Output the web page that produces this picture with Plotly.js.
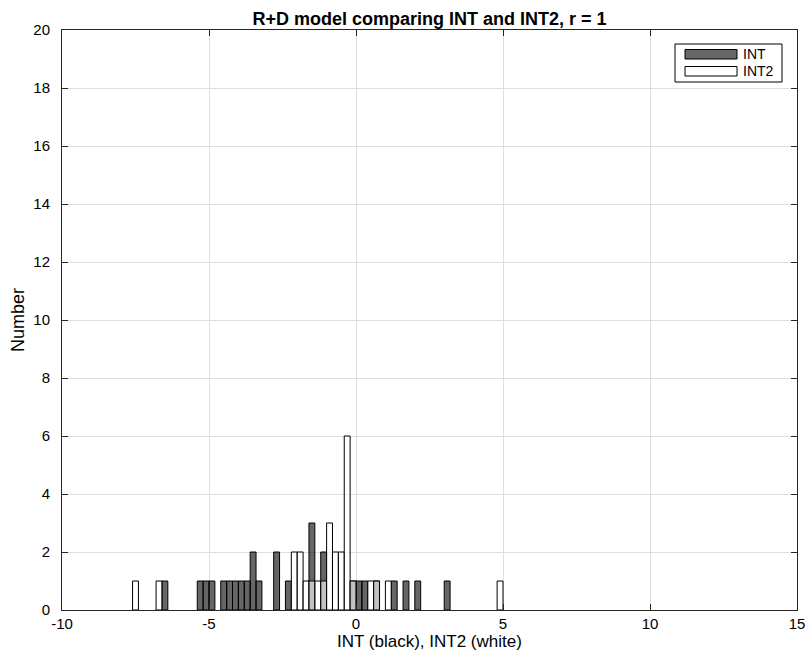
<!DOCTYPE html>
<html>
<head>
<meta charset="utf-8">
<script src="https://cdn.plot.ly/plotly-3.0.1.min.js"></script>
<style>html,body{margin:0;padding:0;background:#fff;}#chart{width:809px;height:653px;}</style>
</head>
<body>
<div id="chart"></div>
<script>
// Bin centres (bin width 0.2) and counts
var intCenters  = [-6.5, -5.3, -5.1, -4.9, -4.5, -4.3, -4.1, -3.9, -3.7, -3.5, -3.3, -2.7, -2.3, -1.5, -1.1, -0.1, 0.1, 0.3, 0.7, 1.3, 1.7, 2.1, 3.1];
var intCounts   = [1, 1, 1, 1, 1, 1, 1, 1, 1, 2, 1, 2, 1, 3, 2, 1, 1, 1, 1, 1, 1, 1, 1];
var int2Centers = [-7.5, -6.7, -2.1, -1.9, -1.7, -1.5, -1.3, -1.1, -0.9, -0.7, -0.5, -0.3, -0.1, 0.5, 0.7, 1.1, 4.9];
var int2Counts  = [1, 1, 2, 2, 1, 1, 1, 1, 3, 2, 2, 6, 1, 1, 1, 1, 1];
var binWidth = 0.2;
var xTicks = [-10, -5, 0, 5, 10, 15];
var yTicks = [0, 2, 4, 6, 8, 10, 12, 14, 16, 18, 20];
var seriesNames = ['INT', 'INT2'];
var xTitle = 'INT (black), INT2 (white)';

var font = 'Liberation Sans, Arial, Helvetica, sans-serif';
function w(arr){ return arr.map(function(){ return binWidth; }); }

var traces = [
  {type:'bar', name:seriesNames[0], x:intCenters, y:intCounts, width:w(intCenters),
   marker:{color:'rgba(0,0,0,0.6)', line:{color:'#000', width:1}}, showlegend:false},
  {type:'bar', name:seriesNames[1], x:int2Centers, y:int2Counts, width:w(int2Centers),
   marker:{color:'rgba(255,255,255,0.6)', line:{color:'#000', width:1}}, showlegend:false}
];

// legend geometry in pixels -> paper coords
var L=62, R=797, T=30, B=610;
function px(x){ return (x-L)/(R-L); }
function py(y){ return (B-y)/(B-T); }

var shapes = [
  {type:'rect', xref:'paper', yref:'paper', x0:px(675), x1:px(782), y0:py(82), y1:py(44), fillcolor:'#fff', line:{color:'#000', width:1}, layer:'above'},
  {type:'rect', xref:'paper', yref:'paper', x0:px(685), x1:px(737), y0:py(59), y1:py(49.5), fillcolor:'#666', line:{color:'#000', width:1}, layer:'above'},
  {type:'rect', xref:'paper', yref:'paper', x0:px(685), x1:px(737), y0:py(76), y1:py(66.5), fillcolor:'#fff', line:{color:'#000', width:1}, layer:'above'}
];
var annotations = [
  {xref:'paper', yref:'paper', x:px(741), y:py(54.3), text:seriesNames[0], showarrow:false, xanchor:'left', yanchor:'middle', font:{family:font, size:14, color:'#000'}},
  {xref:'paper', yref:'paper', x:px(741), y:py(71.3), text:seriesNames[1], showarrow:false, xanchor:'left', yanchor:'middle', font:{family:font, size:14, color:'#000'}},
  {xref:'paper', yref:'paper', x:0.5, y:py(653), text:xTitle, showarrow:false, xanchor:'center', yanchor:'bottom', font:{family:font, size:17, color:'#000'}}
];

var layout = {
  width:809, height:653,
  margin:{l:L, r:809-R, t:T, b:653-B, pad:0},
  paper_bgcolor:'#fff', plot_bgcolor:'#fff',
  barmode:'overlay', bargap:0,
  title:{text:'<b>R+D model comparing INT and INT2, r = 1</b>', font:{family:font, size:18, color:'#000'}, x:0.5, xref:'paper', xanchor:'center', y:1, yref:'paper', yanchor:'bottom', pad:{b:5}},
  xaxis:{range:[-10,15], tickvals:xTicks, ticktext:xTicks.map(String), showgrid:true, gridcolor:'#dedede', gridwidth:1,
         zeroline:false, showline:true, linecolor:'#262626', linewidth:1, mirror:'ticks', ticks:'inside', ticklen:6, tickcolor:'#262626',
         tickfont:{family:font, size:15, color:'#000'}, ticklabelstandoff:0},
  yaxis:{range:[0,20], tickvals:yTicks, ticktext:yTicks.map(String), showgrid:true, gridcolor:'#dedede', gridwidth:1,
         zeroline:false, showline:true, linecolor:'#262626', linewidth:1, mirror:'ticks', ticks:'inside', ticklen:6, tickcolor:'#262626',
         tickfont:{family:font, size:15, color:'#000'}, ticklabelstandoff:8,
         title:{text:'Number', font:{family:font, size:18, color:'#000'}, standoff:4}},
  shapes:shapes, annotations:annotations
};

Plotly.newPlot('chart', traces, layout, {displayModeBar:false, staticPlot:true});
</script>
</body>
</html>
